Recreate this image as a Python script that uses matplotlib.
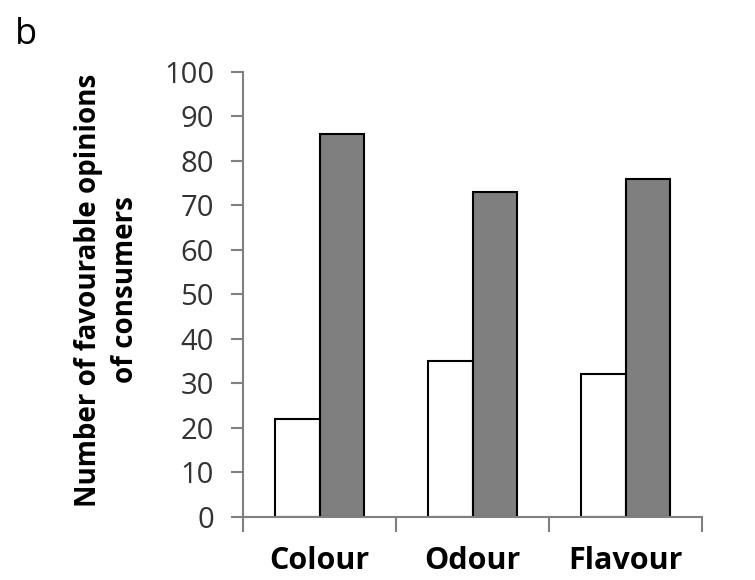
import matplotlib.pyplot as plt
import numpy as np

# data
categories = ['Colour', 'Odour', 'Flavour']
white_vals = [22, 35, 32]
grey_vals = [86, 73, 76]

plt.rcParams['font.family'] = ['Open Sans', 'DejaVu Sans']

fig = plt.figure(figsize=(7.55, 5.8), dpi=100)
ax = fig.add_axes([0.322, 0.109, 0.608, 0.767])

x = np.arange(len(categories))
w = 0.29
ax.bar(x - w / 2, white_vals, w, color='white', edgecolor='black', linewidth=1.5)
ax.bar(x + w / 2, grey_vals, w, color='#7f7f7f', edgecolor='black', linewidth=1.5)

ax.set_xlim(-0.5, 2.5)
ax.set_ylim(0, 100)
ax.set_yticks(range(0, 101, 10))
ax.tick_params(axis='y', direction='out', length=9, width=1.5, color='#808080',
               labelsize=21, labelcolor='#333333', pad=12)

# category labels in the middle, ticks on the boundaries
ax.set_xticks([-0.5, 0.5, 1.5, 2.5])
ax.set_xticklabels([])
ax.set_xticks(x, minor=True)
ax.set_xticklabels(categories, minor=True, fontsize=22, fontweight='bold')
ax.tick_params(axis='x', which='major', direction='out', length=11, width=1.5, color='#808080')
ax.tick_params(axis='x', which='minor', length=0, pad=21)

for s in ['top', 'right']:
    ax.spines[s].set_visible(False)
for s in ['left', 'bottom']:
    ax.spines[s].set_color('#808080')
    ax.spines[s].set_linewidth(1.5)

fig.text(107 / 755, 1 - 290 / 580, 'Number of favourable opinions\nof consumers',
         rotation=90, ha='center', va='center', multialignment='center',
         fontsize=20, fontweight='bold', linespacing=1.4)

fig.text(15 / 755, 1 - 44 / 580, 'b', fontsize=26)

fig.savefig('out.png', dpi=100)
